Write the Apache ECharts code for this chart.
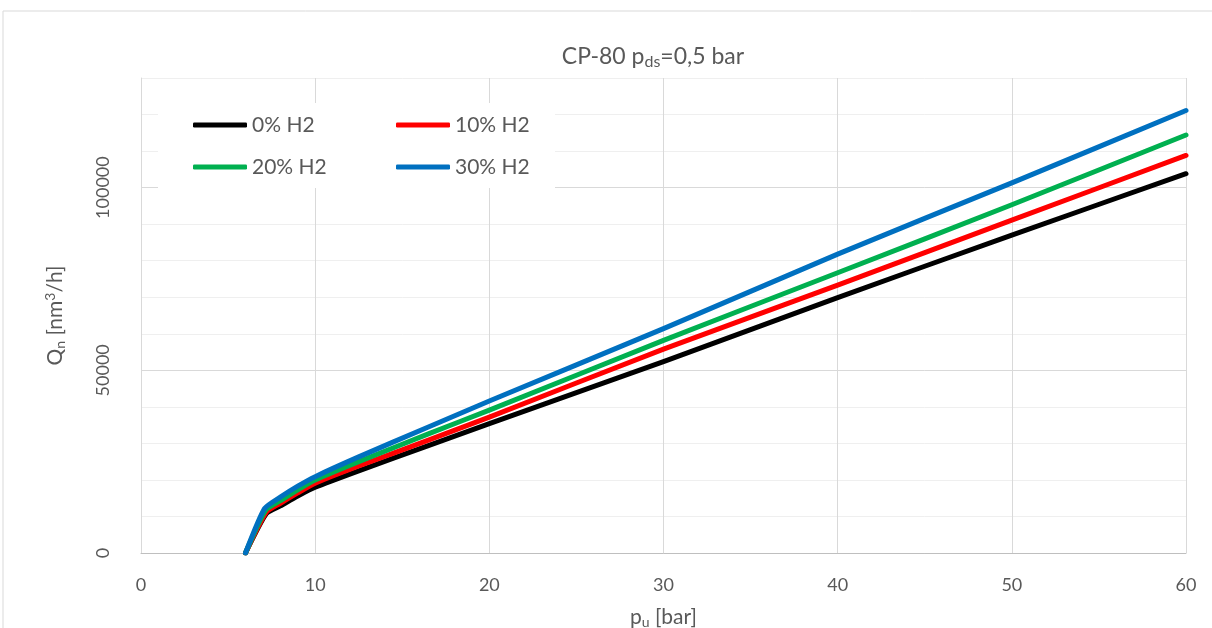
<!DOCTYPE html>
<html>
<head>
<meta charset="utf-8">
<script src="https://cdn.jsdelivr.net/npm/echarts@6/dist/echarts.min.js"></script>
<style>
html,body{margin:0;padding:0;background:#fff;}
#chart{width:1212px;height:628px;}
</style>
</head>
<body>
<div id="chart"></div>
<script>
// Data
const seriesNames = ['0% H2', '10% H2', '20% H2', '30% H2'];
const pu0  = [6, 7.2, 8, 9, 10, 12.5, 16.5, 20, 30, 40, 50, 60];
const q0   = [0, 10800, 12900, 15600, 18000, 22500, 29400, 35400, 52400, 69900, 87000, 103800];
const pu10 = [6, 7.2, 8, 9, 10, 12.5, 16.5, 20, 30, 40, 50, 60];
const q10  = [0, 11200, 13600, 16450, 19100, 23800, 30900, 37200, 55800, 73300, 91100, 108800];
const pu20 = [6, 7.15, 8, 9, 10, 12.5, 16.5, 20, 30, 40, 50, 60];
const q20  = [0, 11700, 14300, 17300, 20000, 25000, 32600, 39100, 58200, 76700, 95300, 114400];
const pu30 = [6, 7.1, 8, 9, 10, 12.5, 16.5, 20, 30, 40, 50, 60];
const q30  = [0, 12200, 15300, 18300, 20900, 26300, 34500, 41600, 61400, 81800, 101300, 121100];
const xTicks = [0, 10, 20, 30, 40, 50, 60];
const yLabelTicks = [0, 50000, 100000];

const colors = ['#000000', '#ff0000', '#00b050', '#0070c0'];
const FONT = 'Lato, "Open Sans", sans-serif';
const TXT = '#595959';

function pairs(xs, ys) { return xs.map((x, i) => [x, ys[i]]); }
const allData = [pairs(pu0, q0), pairs(pu10, q10), pairs(pu20, q20), pairs(pu30, q30)];

const chart = echarts.init(document.getElementById('chart'), null, {renderer: 'canvas'});

const legendPos = [[193, 113], [396, 113], [193, 155], [396, 155]];
const legends = seriesNames.map((n, i) => ({
  data: [n],
  left: legendPos[i][0],
  top: legendPos[i][1],
  padding: 0,
  icon: 'roundRect',
  itemWidth: 54,
  itemHeight: 5,
  itemGap: 0,
  selectedMode: false,
  textStyle: {color: TXT, fontSize: 21, fontFamily: FONT, lineHeight: 24}
}));

const option = {
  animation: false,
  backgroundColor: '#fff',
  title: {
    text: '{a|CP-80 p}{s|ds}{a|=0,5 bar}',
    left: 648,
    textAlign: 'center',
    top: 38,
    textStyle: {
      fontWeight: 'normal',
      rich: {
        a: {fontSize: 23, color: TXT, fontFamily: FONT, fontWeight: 'normal'},
        s: {fontSize: 16, color: TXT, fontFamily: FONT, fontWeight: 'normal', padding: [11, 0, 0, 0]}
      }
    }
  },
  graphic: [
    {type: 'rect', shape: {x: 3, y: 11, width: 1240, height: 650}, style: {fill: 'none', stroke: '#d9d9d9', lineWidth: 1}, silent: true, z: 0},
    {type: 'rect', shape: {x: 158, y: 103, width: 397, height: 85}, style: {fill: '#ffffff'}, silent: true, z: 3}
  ],
  legend: legends,
  grid: {left: 141, right: 26, top: 78, bottom: 75, containLabel: false, outerBoundsMode: 'none'},
  xAxis: {
    type: 'value',
    min: 0, max: 60, interval: 10,
    name: '{a|p}{s|u}{a| [bar]}',
    nameLocation: 'middle',
    nameGap: 52,
    nameTextStyle: {
      rich: {
        a: {fontSize: 21, color: TXT, fontFamily: FONT},
        s: {fontSize: 14, color: TXT, fontFamily: FONT, padding: [10, 0, 0, 0]}
      }
    },
    axisLine: {show: true, lineStyle: {color: '#bfbfbf', width: 1}},
    axisTick: {show: false},
    axisLabel: {
      color: TXT, fontSize: 18, fontFamily: FONT, margin: 23,
      formatter: v => xTicks.includes(v) ? String(v) : ''
    },
    splitLine: {show: true, lineStyle: {color: '#d9d9d9', width: 1}}
  },
  yAxis: {
    type: 'value',
    min: 0, max: 130000, interval: 10000,
    name: '{a|Q}{s|n}{a| [nm}{p|3}{a|/h]}',
    nameLocation: 'middle',
    nameRotate: 90,
    nameGap: 74,
    nameTextStyle: {
      rich: {
        a: {fontSize: 21, color: TXT, fontFamily: FONT},
        s: {fontSize: 14, color: TXT, fontFamily: FONT, padding: [10, 0, 0, 0]},
        p: {fontSize: 14, color: TXT, fontFamily: FONT, padding: [0, 0, 10, 0]}
      }
    },
    axisLine: {show: true, lineStyle: {color: '#d9d9d9', width: 1}},
    axisTick: {show: false},
    axisLabel: {
      color: TXT, fontSize: 18, fontFamily: FONT, margin: 29, rotate: 90,
      formatter: v => yLabelTicks.includes(v) ? String(v) : ''
    },
    splitLine: {show: true, lineStyle: {color: ['#d9d9d9', '#efefef', '#efefef', '#efefef', '#efefef'], width: 1}}
  },
  series: seriesNames.map((n, i) => ({
    name: n,
    type: 'line',
    data: allData[i],
    showSymbol: false,
    symbol: 'none',
    smooth: 0.2,
    color: colors[i],
    lineStyle: {color: colors[i], width: 5, cap: 'round', join: 'round'},
    z: 2 + i
  }))
};

chart.setOption(option);
</script>
</body>
</html>
